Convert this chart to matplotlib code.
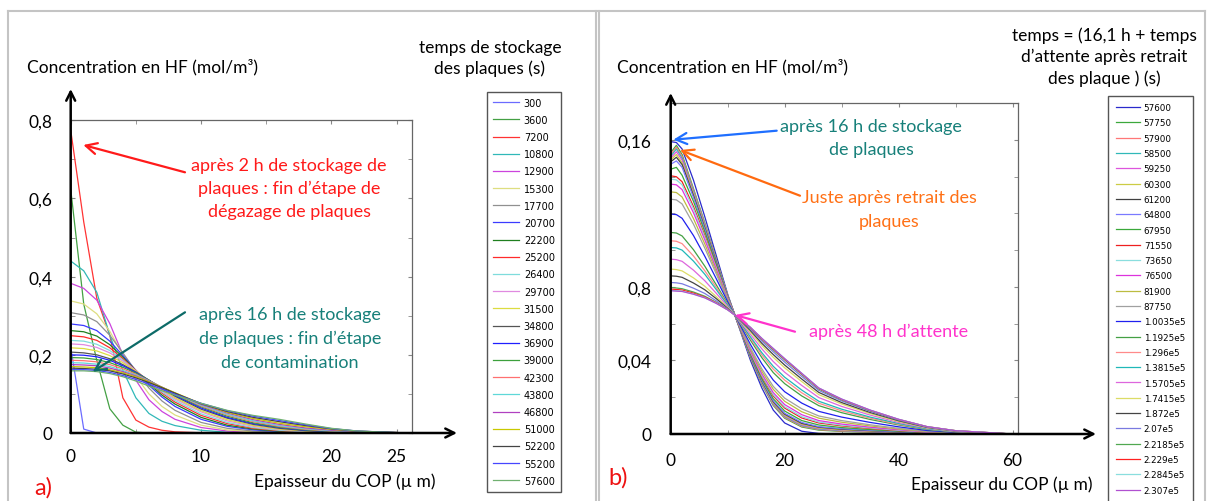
import matplotlib
matplotlib.use('Agg')
import matplotlib.pyplot as plt
from matplotlib.lines import Line2D

# ---- panel a) : profiles during storage (x in um, C in mol/m3)
xa = [0, 1, 2, 3, 4, 5, 6, 7, 8, 10, 12, 14, 16, 18, 20, 22, 25]
labels_a = ['300', '3600', '7200', '10800', '12900', '15300', '17700', '20700', '22200',
            '25200', '26400', '29700', '31500', '34800', '36900', '39000', '42300', '43800',
            '46800', '51000', '52200', '55200', '57600']
c300 = [0.22, 0.01, 0, 0, 0, 0, 0, 0, 0, 0, 0, 0, 0, 0, 0, 0, 0]
c3600 = [0.624, 0.33, 0.186, 0.062, 0.02, 0.002, 0, 0, 0, 0, 0, 0, 0, 0, 0, 0, 0]
c7200 = [0.775, 0.54, 0.345, 0.25, 0.09, 0.033, 0.015, 0.007, 0.003, 0.0005, 0, 0, 0, 0, 0, 0, 0]
c10800 = [0.44, 0.415, 0.36, 0.25, 0.16, 0.09, 0.05, 0.03, 0.019, 0.007, 0.002, 0.0005, 0, 0, 0, 0, 0]
c12900 = [0.383, 0.37, 0.34, 0.28, 0.2, 0.135, 0.085, 0.055, 0.035, 0.014, 0.005, 0.0015, 0.0003, 0, 0, 0, 0]
c15300 = [0.338, 0.33, 0.305, 0.26, 0.2, 0.145, 0.1, 0.068, 0.046, 0.02, 0.008, 0.003, 0.001, 0.0003, 0, 0, 0]
c17700 = [0.308, 0.302, 0.285, 0.25, 0.205, 0.158, 0.115, 0.082, 0.058, 0.027, 0.012, 0.005, 0.002, 0.0007, 0.0002, 0, 0]
c20700 = [0.279, 0.275, 0.262, 0.235, 0.198, 0.16, 0.122, 0.092, 0.068, 0.035, 0.017, 0.008, 0.0035, 0.0014, 0.0005, 0.0002, 0]
c22200 = [0.262, 0.259, 0.248, 0.226, 0.194, 0.16, 0.126, 0.097, 0.074, 0.04, 0.02, 0.01, 0.0045, 0.002, 0.0008, 0.0003, 0]
c25200 = [0.249, 0.246, 0.237, 0.218, 0.19, 0.16, 0.129, 0.102, 0.079, 0.045, 0.024, 0.012, 0.006, 0.0027, 0.0011, 0.0004, 0.0001]
c26400 = [0.237, 0.235, 0.227, 0.211, 0.187, 0.159, 0.13, 0.105, 0.083, 0.049, 0.027, 0.014, 0.007, 0.0033, 0.0014, 0.0006, 0.0001]
c29700 = [0.228, 0.226, 0.219, 0.205, 0.184, 0.159, 0.132, 0.108, 0.087, 0.054, 0.031, 0.017, 0.009, 0.0045, 0.002, 0.0008, 0.0002]
c31500 = [0.218, 0.216, 0.21, 0.198, 0.18, 0.158, 0.134, 0.111, 0.09, 0.057, 0.034, 0.019, 0.01, 0.005, 0.0023, 0.001, 0.0002]
c34800 = [0.207, 0.205, 0.2, 0.19, 0.175, 0.156, 0.135, 0.114, 0.094, 0.061, 0.038, 0.022, 0.012, 0.006, 0.003, 0.0013, 0.0003]
c36900 = [0.2, 0.199, 0.195, 0.186, 0.172, 0.155, 0.135, 0.115, 0.096, 0.064, 0.04, 0.024, 0.014, 0.007, 0.0035, 0.0016, 0.0004]
c39000 = [0.193, 0.192, 0.188, 0.18, 0.168, 0.153, 0.135, 0.116, 0.098, 0.067, 0.043, 0.026, 0.015, 0.008, 0.004, 0.0019, 0.0005]
c42300 = [0.186, 0.185, 0.182, 0.175, 0.164, 0.15, 0.134, 0.117, 0.1, 0.069, 0.046, 0.029, 0.017, 0.0095, 0.005, 0.0024, 0.0007]
c43800 = [0.18, 0.179, 0.176, 0.17, 0.16, 0.148, 0.133, 0.117, 0.101, 0.071, 0.048, 0.031, 0.019, 0.011, 0.0058, 0.0029, 0.0009]
c46800 = [0.175, 0.174, 0.172, 0.166, 0.157, 0.146, 0.132, 0.117, 0.102, 0.073, 0.051, 0.034, 0.022, 0.013, 0.0072, 0.0037, 0.0012]
c51000 = [0.17, 0.169, 0.167, 0.162, 0.154, 0.144, 0.131, 0.117, 0.103, 0.075, 0.053, 0.037, 0.025, 0.016, 0.0092, 0.0045, 0.0012]
c52200 = [0.166, 0.165, 0.163, 0.159, 0.151, 0.141, 0.129, 0.116, 0.102, 0.075, 0.055, 0.04, 0.029, 0.019, 0.0105, 0.0048, 0.0012]
c55200 = [0.162, 0.162, 0.16, 0.155, 0.147, 0.137, 0.125, 0.112, 0.099, 0.076, 0.057, 0.043, 0.032, 0.021, 0.0113, 0.005, 0.0011]
c57600 = [0.159, 0.159, 0.157, 0.152, 0.144, 0.133, 0.12, 0.108, 0.097, 0.076, 0.058, 0.045, 0.035, 0.023, 0.012, 0.005, 0.001]

# ---- panel b) : profiles after removal of the plates
xb = [0, 1, 2, 4, 6, 8, 10, 12, 14, 16, 18, 20, 23, 26, 30, 35, 40, 45, 50, 60]
labels_b = ['57600', '57750', '57900', '58500', '59250', '60300', '61200', '64800', '67950',
            '71550', '73650', '76500', '81900', '87750', '1.0035e5', '1.1925e5', '1.296e5',
            '1.3815e5', '1.5705e5', '1.7415e5', '1.872e5', '2.07e5', '2.2185e5', '2.229e5',
            '2.2845e5', '2.307e5']
r57600 = [0.159, 0.1585, 0.155, 0.138, 0.118, 0.097, 0.076, 0.058, 0.040, 0.025, 0.013, 0.006, 0.0015, 0.0003, 0, 0, 0, 0, 0, 0]
r57750 = [0.153, 0.157, 0.152, 0.1334, 0.1147, 0.0951, 0.0754, 0.0584, 0.0413, 0.027, 0.0155, 0.0086, 0.0038, 0.0021, 0.0014, 0.001, 0.0006, 0.0003, 0.0001, 0]
r57900 = [0.152, 0.156, 0.151, 0.1327, 0.1142, 0.0948, 0.0753, 0.0584, 0.0415, 0.0273, 0.0159, 0.009, 0.0042, 0.0024, 0.0016, 0.0011, 0.0007, 0.0003, 0.0002, 0]
r58500 = [0.151, 0.155, 0.150, 0.1319, 0.1136, 0.0944, 0.0752, 0.0585, 0.0418, 0.0277, 0.0163, 0.0095, 0.0046, 0.0027, 0.0019, 0.0013, 0.0008, 0.0004, 0.0002, 0]
r59250 = [0.150, 0.1535, 0.149, 0.1311, 0.1131, 0.0941, 0.0751, 0.0586, 0.042, 0.028, 0.0167, 0.0099, 0.005, 0.003, 0.0021, 0.0014, 0.0009, 0.0004, 0.0002, 0]
r60300 = [0.149, 0.152, 0.1475, 0.1304, 0.1126, 0.0938, 0.075, 0.0586, 0.0422, 0.0283, 0.0171, 0.0103, 0.0054, 0.0033, 0.0023, 0.0016, 0.001, 0.0005, 0.0002, 0]
r61200 = [0.148, 0.1505, 0.1465, 0.1296, 0.112, 0.0935, 0.0748, 0.0587, 0.0424, 0.0287, 0.0176, 0.0108, 0.0058, 0.0037, 0.0026, 0.0018, 0.0011, 0.0005, 0.0002, 0]
r64800 = [0.1467, 0.1485, 0.145, 0.1286, 0.1113, 0.093, 0.0747, 0.0588, 0.0427, 0.0291, 0.0181, 0.0113, 0.0063, 0.004, 0.0029, 0.002, 0.0012, 0.0006, 0.0003, 0]
r67950 = [0.144, 0.145, 0.1407, 0.1265, 0.1099, 0.0922, 0.0744, 0.0589, 0.0433, 0.030, 0.0192, 0.0125, 0.0073, 0.0049, 0.0035, 0.0024, 0.0015, 0.0007, 0.0003, 0]
r71550 = [0.1404, 0.1399, 0.1372, 0.1237, 0.1079, 0.091, 0.074, 0.0592, 0.0441, 0.0312, 0.0207, 0.0141, 0.0087, 0.006, 0.0044, 0.003, 0.0018, 0.0009, 0.0004, 0]
r73650 = [0.1386, 0.1382, 0.1355, 0.1224, 0.1069, 0.0904, 0.0739, 0.0593, 0.0445, 0.0318, 0.0214, 0.0148, 0.0094, 0.0065, 0.0048, 0.0033, 0.002, 0.001, 0.0005, 0]
r76500 = [0.1359, 0.1355, 0.1329, 0.1203, 0.1055, 0.0896, 0.0736, 0.0594, 0.0451, 0.0327, 0.0225, 0.016, 0.0105, 0.0073, 0.0054, 0.0037, 0.0023, 0.0011, 0.0005, 0]
r81900 = [0.1317, 0.1313, 0.1289, 0.1171, 0.1032, 0.0882, 0.0731, 0.0597, 0.0461, 0.0341, 0.0243, 0.0178, 0.0121, 0.0086, 0.0064, 0.0044, 0.0027, 0.0013, 0.0006, 0]
r87750 = [0.1277, 0.1273, 0.1251, 0.1141, 0.101, 0.087, 0.0727, 0.0599, 0.0469, 0.0354, 0.0259, 0.0195, 0.0137, 0.0098, 0.0073, 0.005, 0.0031, 0.0015, 0.0007, 0]
r100350 = [0.1196, 0.1193, 0.1173, 0.1079, 0.0966, 0.0844, 0.0719, 0.0604, 0.0487, 0.0381, 0.0293, 0.023, 0.0168, 0.0123, 0.0092, 0.0063, 0.0039, 0.0019, 0.0009, 0]
r119250 = [0.1096, 0.1093, 0.1077, 0.1002, 0.0912, 0.0811, 0.0708, 0.0611, 0.051, 0.0415, 0.0334, 0.0274, 0.0207, 0.0154, 0.0116, 0.0079, 0.0049, 0.0024, 0.0011, 0]
r129600 = [0.1051, 0.1048, 0.1035, 0.0968, 0.0887, 0.0797, 0.0703, 0.0613, 0.052, 0.043, 0.0353, 0.0293, 0.0224, 0.0167, 0.0126, 0.0086, 0.0053, 0.0027, 0.0012, 0]
r138150 = [0.1014, 0.1012, 0.1, 0.094, 0.0868, 0.0785, 0.07, 0.0616, 0.0528, 0.0442, 0.0368, 0.0309, 0.0239, 0.0178, 0.0135, 0.0092, 0.0057, 0.0028, 0.0013, 0]
r157050 = [0.0951, 0.0948, 0.0939, 0.0891, 0.0833, 0.0765, 0.0693, 0.0619, 0.0542, 0.0463, 0.0394, 0.0336, 0.0264, 0.0198, 0.015, 0.0103, 0.0063, 0.0032, 0.0014, 0]
r174150 = [0.0897, 0.0894, 0.0887, 0.0849, 0.0803, 0.0747, 0.0687, 0.0623, 0.0554, 0.0481, 0.0417, 0.036, 0.0285, 0.0214, 0.0163, 0.0111, 0.0068, 0.0034, 0.0015, 0]
r187200 = [0.086, 0.0858, 0.0852, 0.0821, 0.0784, 0.0736, 0.0683, 0.0625, 0.0562, 0.0493, 0.0432, 0.0375, 0.0299, 0.0226, 0.0171, 0.0117, 0.0072, 0.0036, 0.0016, 0]
r207000 = [0.0824, 0.0822, 0.0817, 0.0793, 0.0764, 0.0724, 0.068, 0.0627, 0.057, 0.0505, 0.0447, 0.0391, 0.0313, 0.0237, 0.018, 0.0123, 0.0076, 0.0038, 0.0017, 0]
r221850 = [0.0797, 0.0794, 0.079, 0.0772, 0.0749, 0.0715, 0.0677, 0.0629, 0.0576, 0.0515, 0.0458, 0.0403, 0.0324, 0.0245, 0.0186, 0.0127, 0.0078, 0.0039, 0.0018, 0]
r222900 = [0.0788, 0.0786, 0.0783, 0.0766, 0.0744, 0.0713, 0.0676, 0.063, 0.0578, 0.0517, 0.0462, 0.0407, 0.0327, 0.0248, 0.0188, 0.0129, 0.0079, 0.004, 0.0018, 0]
r228450 = [0.0781, 0.0779, 0.0777, 0.0761, 0.0741, 0.0711, 0.0675, 0.063, 0.058, 0.052, 0.0465, 0.041, 0.033, 0.025, 0.019, 0.013, 0.008, 0.004, 0.0018, 0]
r230700 = [0.0779, 0.0777, 0.0775, 0.076, 0.074, 0.071, 0.0675, 0.063, 0.058, 0.052, 0.0465, 0.041, 0.033, 0.025, 0.019, 0.013, 0.008, 0.004, 0.0018, 0]

curves_a = [c300, c3600, c7200, c10800, c12900, c15300, c17700, c20700, c22200, c25200,
            c26400, c29700, c31500, c34800, c36900, c39000, c42300, c43800, c46800, c51000,
            c52200, c55200, c57600]
curves_b = [r57600, r57750, r57900, r58500, r59250, r60300, r61200, r64800, r67950, r71550,
            r73650, r76500, r81900, r87750, r100350, r119250, r129600, r138150, r157050,
            r174150, r187200, r207000, r221850, r222900, r228450, r230700]

colors_a = ['#6b6bff', '#44a044', '#ff3333', '#30b8b8', '#cc44dd', '#dede80', '#909090', '#3b3bff',
            '#1f7f1f', '#ff2b2b', '#7fdcdc', '#e08ae0', '#dcdc40', '#555555', '#1f1fff', '#3ca03c',
            '#ff7070', '#5fd8d8', '#b040c0', '#c8c800', '#444444', '#4646ff', '#70b070']
colors_b = ['#2a2acc', '#3ca83c', '#ff7777', '#30b8b8', '#dd55dd', '#cccc44', '#404040', '#7a7aff',
            '#3aa83a', '#ee2020', '#8adede', '#dd33dd', '#bcbc40', '#a0a0a0', '#2020ee', '#44a044',
            '#ff8a8a', '#20b8b8', '#dd66dd', '#dcdc66', '#444444', '#7a7ae0', '#50a850', '#ff2020',
            '#8adede', '#b050d0']

W, H = 1210, 502
plt.rcParams['font.family'] = ['Lato', 'DejaVu Sans']
fig = plt.figure(figsize=(W / 100, H / 100), dpi=100)


def fx(px):
    return px / W


def fy(py):
    return 1 - py / H


# gray page frames
for xs, ys in [([8, 8], [12, 502]), ([8, 1205], [12, 12]), ([596, 596], [12, 502]),
               ([599, 599], [12, 502]), ([1205, 1205], [12, 502])]:
    fig.add_artist(Line2D([fx(v) for v in xs], [fy(v) for v in ys], color='#c4c4c4', lw=1.5))


def setup(ax, xlim, ylim, xt, xtl, xminor, yt, ytl, yminor, xarrow, yarrow, xpad, ypad):
    ax.set_xlim(*xlim)
    ax.set_ylim(*ylim)
    ax.set_xticks(xt)
    ax.set_xticklabels(xtl)
    ax.set_xticks(xminor, minor=True)
    ax.set_yticks(yt)
    ax.set_yticklabels(ytl)
    ax.set_yticks(yminor, minor=True)
    ax.tick_params(which='both', direction='in', length=3, color='#888888', top=True, right=True,
                   labelsize=12.5)
    ax.tick_params(axis='x', pad=xpad)
    ax.tick_params(axis='y', pad=ypad)
    for s in ['top', 'right']:
        ax.spines[s].set_color('#666666')
        ax.spines[s].set_linewidth(0.9)
    for s in ['left', 'bottom']:
        ax.spines[s].set_visible(False)
    arrow = dict(arrowstyle='->', lw=1.8, color='black', mutation_scale=16, shrinkA=0, shrinkB=0)
    ax.annotate('', xy=(0, yarrow), xytext=(0, 0), xycoords='axes fraction',
                arrowprops=arrow, annotation_clip=False)
    ax.annotate('', xy=(xarrow, 0), xytext=(0, 0), xycoords='axes fraction',
                arrowprops=arrow, annotation_clip=False)


ax1 = fig.add_axes([fx(70.7), fy(434), (412.3 - 70.7) / W, (434 - 121.3) / H])
lines_a = []
for y, c, lab in zip(curves_a, colors_a, labels_a):
    l, = ax1.plot(xa, y, color=c, lw=0.9, label=lab)
    lines_a.append(l)
setup(ax1, (0, 26.2), (0, 0.8), [0, 10, 20, 25], ['0', '10', '20', '25'], [5, 15],
      [0, 0.2, 0.4, 0.6, 0.8], ['0', '0,2', '0,4', '0,6', '0,8'], [0.1, 0.3, 0.5, 0.7],
      (457 - 70.7) / (412.3 - 70.7), 1 + (121.3 - 90) / (434 - 121.3), 11, 13)

ax2 = fig.add_axes([fx(670.7), fy(435), 347 / W, 331 / H])
lines_b = []
for y, c, lab in zip(curves_b, colors_b, labels_b):
    l, = ax2.plot(xb, y, color=c, lw=0.9, label=lab)
    lines_b.append(l)
setup(ax2, (0, 60.9), (0, 0.18), [0, 20, 40, 60], ['0', '20', '40', '60'], [10, 30, 50],
      [0, 0.04, 0.08, 0.16], ['0', '0,04', '0,8', '0,16'],
      [0.02, 0.06, 0.10, 0.12, 0.14, 0.18],
      (1096 - 670.7) / 347, 1 + (104 - 94) / 331, 13, 14)

# legends
fig.legend(handles=lines_a, labels=labels_a, loc='upper left', bbox_to_anchor=(fx(487.3), fy(92.7)),
           borderaxespad=0, fancybox=False, edgecolor='#555555', framealpha=1,
           prop={'family': 'DejaVu Sans', 'size': 7}, handlelength=2.7, handletextpad=0.45,
           borderpad=0.6, labelspacing=0.74)
fig.legend(handles=lines_b, labels=labels_b, loc='upper left', bbox_to_anchor=(fx(1108.3), fy(96.7)),
           borderaxespad=0, fancybox=False, edgecolor='#555555', framealpha=1,
           prop={'family': 'DejaVu Sans', 'size': 6.3}, handlelength=2.75, handletextpad=0.45,
           borderpad=0.85, labelspacing=0.72)

# texts
fs = 12.5
fs2 = 13
fig.text(fx(27), fy(67), 'Concentration en HF (mol/m³)', ha='left', va='center', fontsize=fs)
fig.text(fx(617), fy(67), 'Concentration en HF (mol/m³)', ha='left', va='center', fontsize=fs)
fig.text(fx(490), fy(48), 'temps de stockage', ha='center', va='center', fontsize=fs)
fig.text(fx(490), fy(69), 'des plaques (s)', ha='center', va='center', fontsize=fs)
for t, yy in [('temps = (16,1 h + temps', 35.7), ('d’attente après retrait', 56.7),
              ('des plaque ) (s)', 79)]:
    fig.text(fx(1104), fy(yy), t, ha='center', va='center', fontsize=fs)
fig.text(fx(345), fy(482), 'Epaisseur du COP (µ m)', ha='center', va='center', fontsize=fs)
fig.text(fx(1002), fy(485), 'Epaisseur du COP (µ m)', ha='center', va='center', fontsize=fs)
fig.text(fx(34), fy(488), 'a)', ha='left', va='center', fontsize=17, color='#ee1111')
fig.text(fx(608), fy(478), 'b)', ha='left', va='center', fontsize=17, color='#ee1111')

red = '#ff1a1a'
teal = '#17807a'
for t, yy in [('après 2 h de stockage de', 165.7), ('plaques : fin d’étape de', 189),
              ('dégazage de plaques', 212.3)]:
    fig.text(fx(289), fy(yy), t, ha='center', va='center', fontsize=fs2, color=red)
for t, yy in [('après 16 h de stockage', 315), ('de plaques : fin d’étape', 339),
              ('de contamination', 362.7)]:
    fig.text(fx(290), fy(yy), t, ha='center', va='center', fontsize=fs2, color=teal)
for t, yy in [('après 16 h de stockage', 126.7), ('de plaques', 150)]:
    fig.text(fx(871), fy(yy), t, ha='center', va='center', fontsize=fs2, color=teal)
for t, yy in [('Juste après retrait des', 198.3), ('plaques', 222)]:
    fig.text(fx(889.5), fy(yy), t, ha='center', va='center', fontsize=fs2, color='#ff7015')
fig.text(fx(889), fy(332), 'après 48 h d’attente', ha='center', va='center', fontsize=fs2,
         color='#ff33cc')


def arrow(ax, x0, y0, x1, y1, color):
    a = ax.annotate('', xy=(x1, H - y1), xytext=(x0, H - y0), xycoords='figure pixels',
                    textcoords='figure pixels', annotation_clip=False,
                    arrowprops=dict(arrowstyle='->', color=color, lw=1.6,
                                    mutation_scale=20, shrinkA=0, shrinkB=0))
    a.arrow_patch.set_clip_on(False)


arrow(ax1, 185, 173.3, 83.3, 146, red)
arrow(ax1, 185, 313.3, 92.7, 372.7, '#0d6b68')
arrow(ax2, 776.7, 131.7, 673.3, 140.7, '#1f6fff')
arrow(ax2, 800, 196.7, 680, 151, '#ff6a10')
arrow(ax2, 795, 332.7, 735, 316, '#ff33cc')

fig.savefig('out.png', dpi=100)
